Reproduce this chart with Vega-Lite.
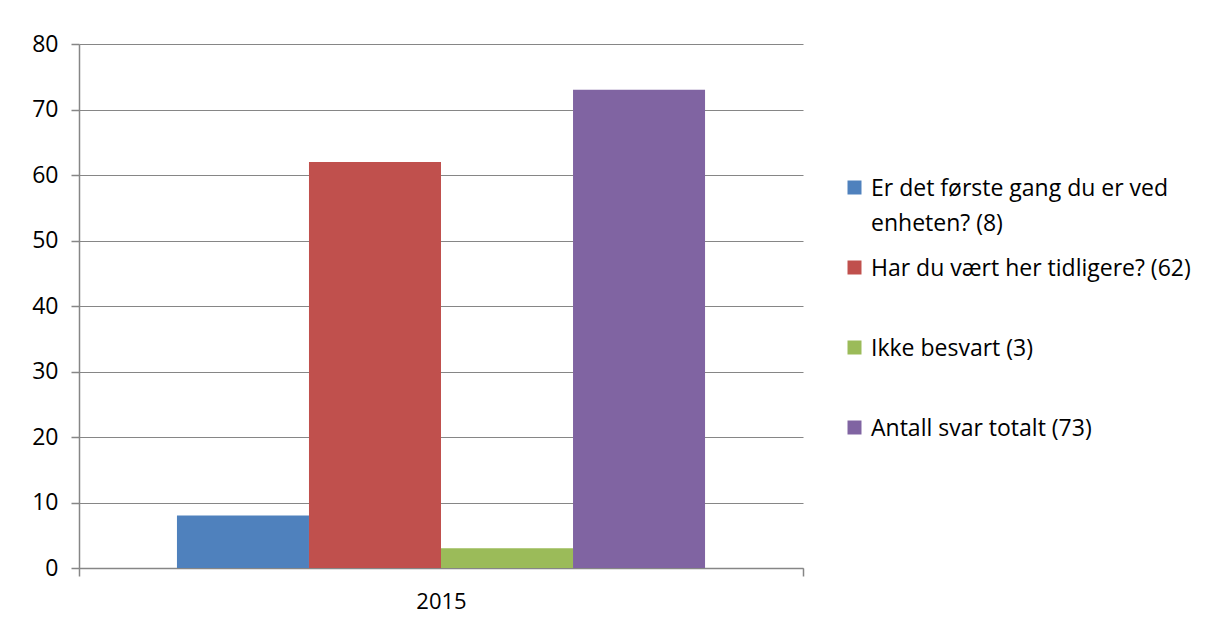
{
  "$schema": "https://vega.github.io/schema/vega-lite/v6.json",
  "width": 724,
  "height": 524,
  "autosize": {"type": "none"},
  "padding": {"left": 79, "top": 44, "right": 410, "bottom": 57},
  "background": "white",
  "config": {
    "view": {"stroke": null},
    "font": "Open Sans",
    "style": {"guide-label": {"lineHeight": 35, "dy": -10}}
  },
  "data": {
    "values": [
      {"year": "2015", "series": "Er det første gang du er ved enheten? (8)", "value": 8},
      {"year": "2015", "series": "Har du vært her tidligere? (62)", "value": 62},
      {"year": "2015", "series": "Ikke besvart (3)", "value": 3},
      {"year": "2015", "series": "Antall svar totalt  (73)", "value": 73}
    ]
  },
  "mark": {"type": "bar"},
  "encoding": {
    "x": {
      "field": "year",
      "type": "nominal",
      "scale": {"paddingInner": 0, "paddingOuter": 0},
      "axis": {
        "title": null,
        "labelAngle": 0,
        "tickBand": "extent",
        "domainColor": "#868686",
        "domainWidth": 1.5,
        "tickColor": "#868686",
        "tickWidth": 1.5,
        "tickSize": 8,
        "labelFont": "Open Sans",
        "labelFontSize": 22,
        "labelColor": "#000000",
        "labelPadding": 25,
        "grid": false
      }
    },
    "xOffset": {
      "field": "series",
      "type": "nominal",
      "sort": ["Er det første gang du er ved enheten? (8)", "Har du vært her tidligere? (62)", "Ikke besvart (3)", "Antall svar totalt  (73)"],
      "scale": {"paddingInner": 0, "paddingOuter": 0.742}
    },
    "y": {
      "field": "value",
      "type": "quantitative",
      "scale": {"domain": [0, 80]},
      "axis": {
        "title": null,
        "values": [0, 10, 20, 30, 40, 50, 60, 70, 80],
        "domain": true,
        "domainColor": "#868686",
        "domainWidth": 1.5,
        "tickColor": "#868686",
        "tickWidth": 1.5,
        "tickSize": 8,
        "gridColor": "#868686",
        "gridWidth": 1.2,
        "labelFont": "Open Sans",
        "labelFontSize": 23,
        "labelColor": "#000000",
        "labelPadding": 13,
        "labelOffset": 10
      }
    },
    "color": {
      "field": "series",
      "type": "nominal",
      "sort": ["Er det første gang du er ved enheten? (8)", "Har du vært her tidligere? (62)", "Ikke besvart (3)", "Antall svar totalt  (73)"],
      "scale": {
        "domain": ["Er det første gang du er ved enheten? (8)", "Har du vært her tidligere? (62)", "Ikke besvart (3)", "Antall svar totalt  (73)"],
        "range": ["#4F81BD", "#C0504D", "#9BBB59", "#8064A2"]
      },
      "legend": {
        "title": null,
        "orient": "none",
        "legendX": 764,
        "legendY": 132,
        "symbolType": "square",
        "symbolSize": 196,
        "symbolStrokeWidth": 0,
        "symbolOpacity": 1,
        "labelFont": "Open Sans",
        "labelFontSize": 23,
        "labelColor": "#000000",
        "labelLimit": 400,
        "labelOffset": 5,
        "labelBaseline": "top",
        "gridAlign": "all",
        "rowPadding": 20,
        "labelExpr": "datum.label == 'Er det første gang du er ved enheten? (8)' ? ['Er det første gang du er ved', 'enheten? (8)'] : datum.label"
      }
    }
  }
}
